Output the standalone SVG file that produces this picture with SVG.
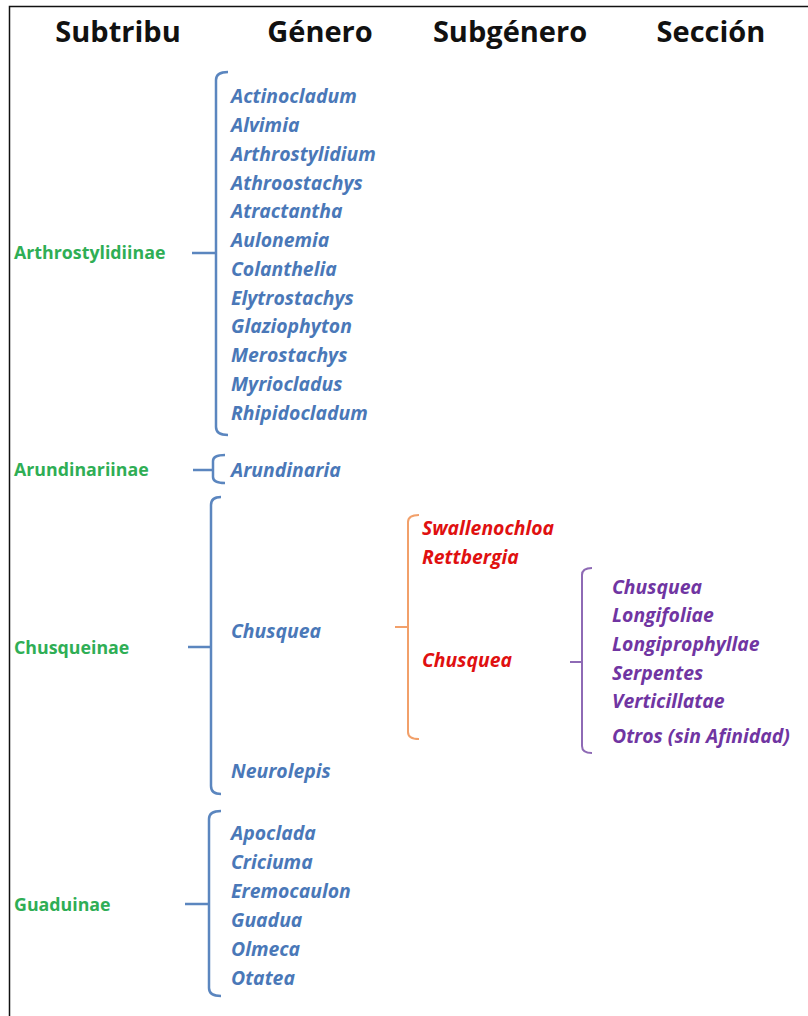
<svg xmlns="http://www.w3.org/2000/svg" width="808" height="1016" viewBox="0 0 808 1016">
<style>
.h{font-family:"Open Sans",Lato,sans-serif;font-weight:700;font-size:29px;fill:#111;text-anchor:middle}
.s{font-family:"Open Sans",Lato,sans-serif;font-weight:700;font-size:17.8px;fill:#2fae55}
.g{font-family:"Open Sans",Lato,sans-serif;font-weight:700;font-style:italic;font-size:19.4px;fill:#4a78b8}
.r{font-family:"Open Sans",Lato,sans-serif;font-weight:700;font-style:italic;font-size:19.4px;fill:#e01010}
.p{font-family:"Open Sans",Lato,sans-serif;font-weight:700;font-style:italic;font-size:19.4px;fill:#7035a2}
.bb{fill:none;stroke:#5b86bf;stroke-width:2.5}
.bo{fill:none;stroke:#f2a06a;stroke-width:2}
.bp{fill:none;stroke:#8e6ab5;stroke-width:2}
</style>
<rect width="808" height="1016" fill="#fff"/>
<path d="M9.5 1016 V6.5 H808" fill="none" stroke="#111" stroke-width="1.5"/>
<g id="headers">
<text class="h" x="118" y="42">Subtribu</text>
<text class="h" x="320" y="42">Género</text>
<text class="h" x="510" y="42">Subgénero</text>
<text class="h" x="711" y="42">Sección</text>
</g>
<g id="connectors">
<path class="bb" d="M228 72 Q216 72 216 80 V427 Q216 435 228 435 M192 253 H216"/>
<path class="bb" d="M225 455 Q213 455 213 461 V477 Q213 483 225 483 M193 470 H213"/>
<path class="bb" d="M221 497 Q211 497 211 505 V786 Q211 794 221 794 M188 647 H211"/>
<path class="bb" d="M221 811 Q209 811 209 819 V988 Q209 996 221 996 M185 904 H209"/>
<path class="bo" d="M419 515 Q408 515 408 522 V732 Q408 739 419 739 M395 627 H408"/>
<path class="bp" d="M592 568 Q582 568 582 575 V746 Q582 753 592 753 M570 662 H582"/>
</g>
<g id="subtribus">
<text class="s" x="14" y="259">Arthrostylidiinae</text>
<text class="s" x="14" y="476">Arundinariinae</text>
<text class="s" x="14" y="654">Chusqueinae</text>
<text class="s" x="14" y="911">Guaduinae</text>
</g>
<g id="generos">
<text class="g" x="231" y="102.5">Actinocladum</text>
<text class="g" x="231" y="131.5">Alvimia</text>
<text class="g" x="231" y="160.5">Arthrostylidium</text>
<text class="g" x="231" y="189.5">Athroostachys</text>
<text class="g" x="231" y="217.5">Atractantha</text>
<text class="g" x="231" y="246.5">Aulonemia</text>
<text class="g" x="231" y="275.5">Colanthelia</text>
<text class="g" x="231" y="304.5">Elytrostachys</text>
<text class="g" x="231" y="332.5">Glaziophyton</text>
<text class="g" x="231" y="361.5">Merostachys</text>
<text class="g" x="231" y="390.5">Myriocladus</text>
<text class="g" x="231" y="419.5">Rhipidocladum</text>
<text class="g" x="231" y="476.5">Arundinaria</text>
<text class="g" x="231" y="637.5">Chusquea</text>
<text class="g" x="231" y="777.5">Neurolepis</text>
<text class="g" x="231" y="839.5">Apoclada</text>
<text class="g" x="231" y="868.5">Criciuma</text>
<text class="g" x="231" y="897.5">Eremocaulon</text>
<text class="g" x="231" y="926.5">Guadua</text>
<text class="g" x="231" y="955.5">Olmeca</text>
<text class="g" x="231" y="984.5">Otatea</text>
</g>
<g id="subgeneros">
<text class="r" x="422" y="534.5">Swallenochloa</text>
<text class="r" x="422" y="563.5">Rettbergia</text>
<text class="r" x="422" y="666.5">Chusquea</text>
</g>
<g id="secciones">
<text class="p" x="612" y="593.5">Chusquea</text>
<text class="p" x="612" y="621.5">Longifoliae</text>
<text class="p" x="612" y="650.5">Longiprophyllae</text>
<text class="p" x="612" y="679.5">Serpentes</text>
<text class="p" x="612" y="707.5">Verticillatae</text>
<text class="p" x="612" y="742.5">Otros (sin Afinidad)</text>
</g>
</svg>
